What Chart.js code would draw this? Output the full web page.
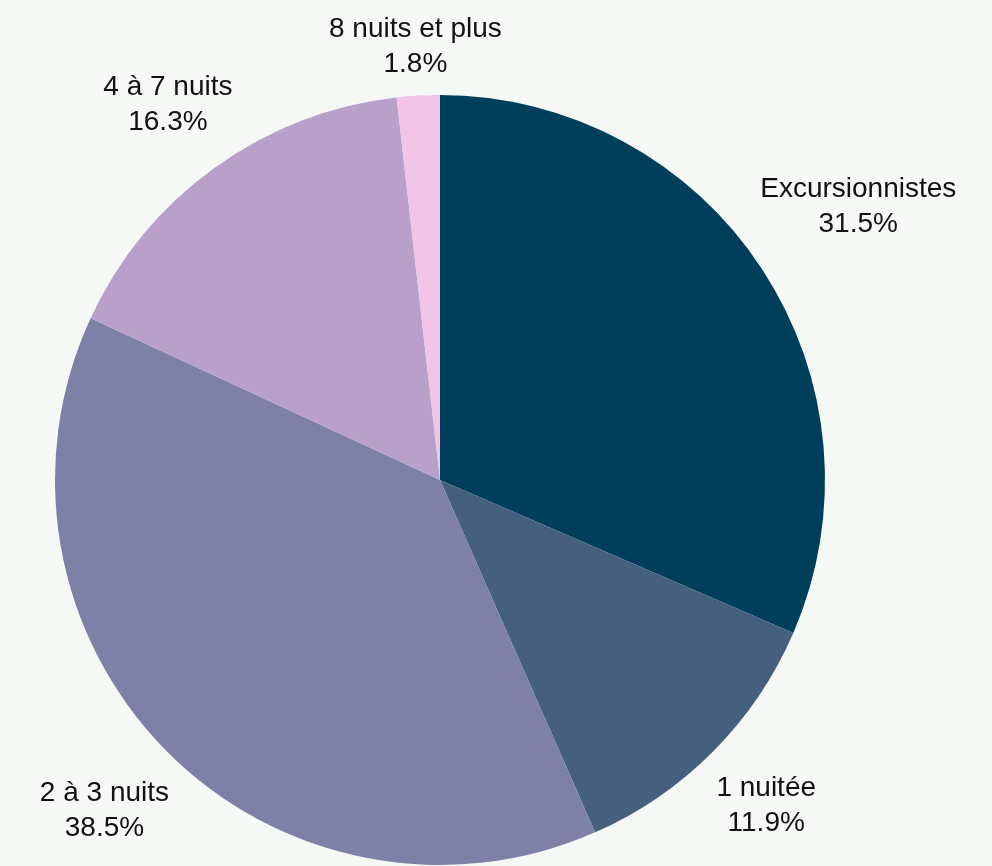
<!DOCTYPE html>
<html>
<head>
<meta charset="utf-8">
<script src="https://cdn.jsdelivr.net/npm/chart.js@4/dist/chart.umd.min.js"></script>
<style>
  html, body { margin: 0; padding: 0; background: #f6f8f6; }
  #wrap { width: 992px; height: 866px; }
</style>
</head>
<body>
<div id="wrap"><canvas id="myChart" width="992" height="866"></canvas></div>
<script>
  const labels = ['Excursionnistes', '1 nuitée', '2 à 3 nuits', '4 à 7 nuits', '8 nuits et plus'];
  const shares = [31.5, 11.9, 38.5, 16.3, 1.8];
  const colors = ['#003f5c', '#45607f', '#7e80a8', '#b8a0cb', '#f1c4e8'];

  const fontSize = 28;
  const lineH = 35;

  // put each label box just outside the pie, along the slice's middle angle
  const outsideLabels = {
    id: 'outsideLabels',
    afterDraw(chart) {
      const ctx = chart.ctx;
      const meta = chart.getDatasetMeta(0);
      ctx.save();
      ctx.font = fontSize + 'px "Liberation Sans", Arial, sans-serif';
      ctx.fillStyle = '#111';
      ctx.textAlign = 'center';
      ctx.textBaseline = 'middle';
      meta.data.forEach((arc, i) => {
        const p = arc.getProps(['x', 'y', 'startAngle', 'endAngle', 'outerRadius'], true);
        const mid = (p.startAngle + p.endAngle) / 2;
        const dx = Math.cos(mid), dy = Math.sin(mid);
        const lines = [labels[i], shares[i].toFixed(1) + '%'];
        const w = Math.max(...lines.map(l => ctx.measureText(l).width));
        const h = lineH * lines.length;
        const target = p.outerRadius + 15;
        // distance from pie centre to nearest point of a box centred at t*dir
        const near = t => {
          const cx = dx * t, cy = dy * t;
          const nx = Math.max(Math.abs(cx) - w / 2, 0);
          const ny = Math.max(Math.abs(cy) - h / 2, 0);
          return Math.hypot(nx, ny);
        };
        let lo = 0, hi = p.outerRadius * 3;
        for (let k = 0; k < 40; k++) {
          const m = (lo + hi) / 2;
          if (near(m) < target) lo = m; else hi = m;
        }
        const bx = p.x + dx * hi, by = p.y + dy * hi + 2;
        lines.forEach((l, j) => {
          ctx.fillText(l, bx, by - h / 2 + lineH * (j + 0.5));
        });
      });
      ctx.restore();
    }
  };

  const config = {
    type: 'pie',
    data: {
      labels: labels,
      datasets: [{
        data: shares,
        backgroundColor: colors,
        borderWidth: 0
      }]
    },
    options: {
      responsive: false,
      animation: false,
      layout: { padding: { top: 95, bottom: 1, left: 55, right: 167 } },
      plugins: {
        legend: { display: false },
        tooltip: { enabled: false }
      }
    },
    plugins: [outsideLabels]
  };

  const myChart = new Chart(document.getElementById('myChart'), config);
</script>
</body>
</html>
